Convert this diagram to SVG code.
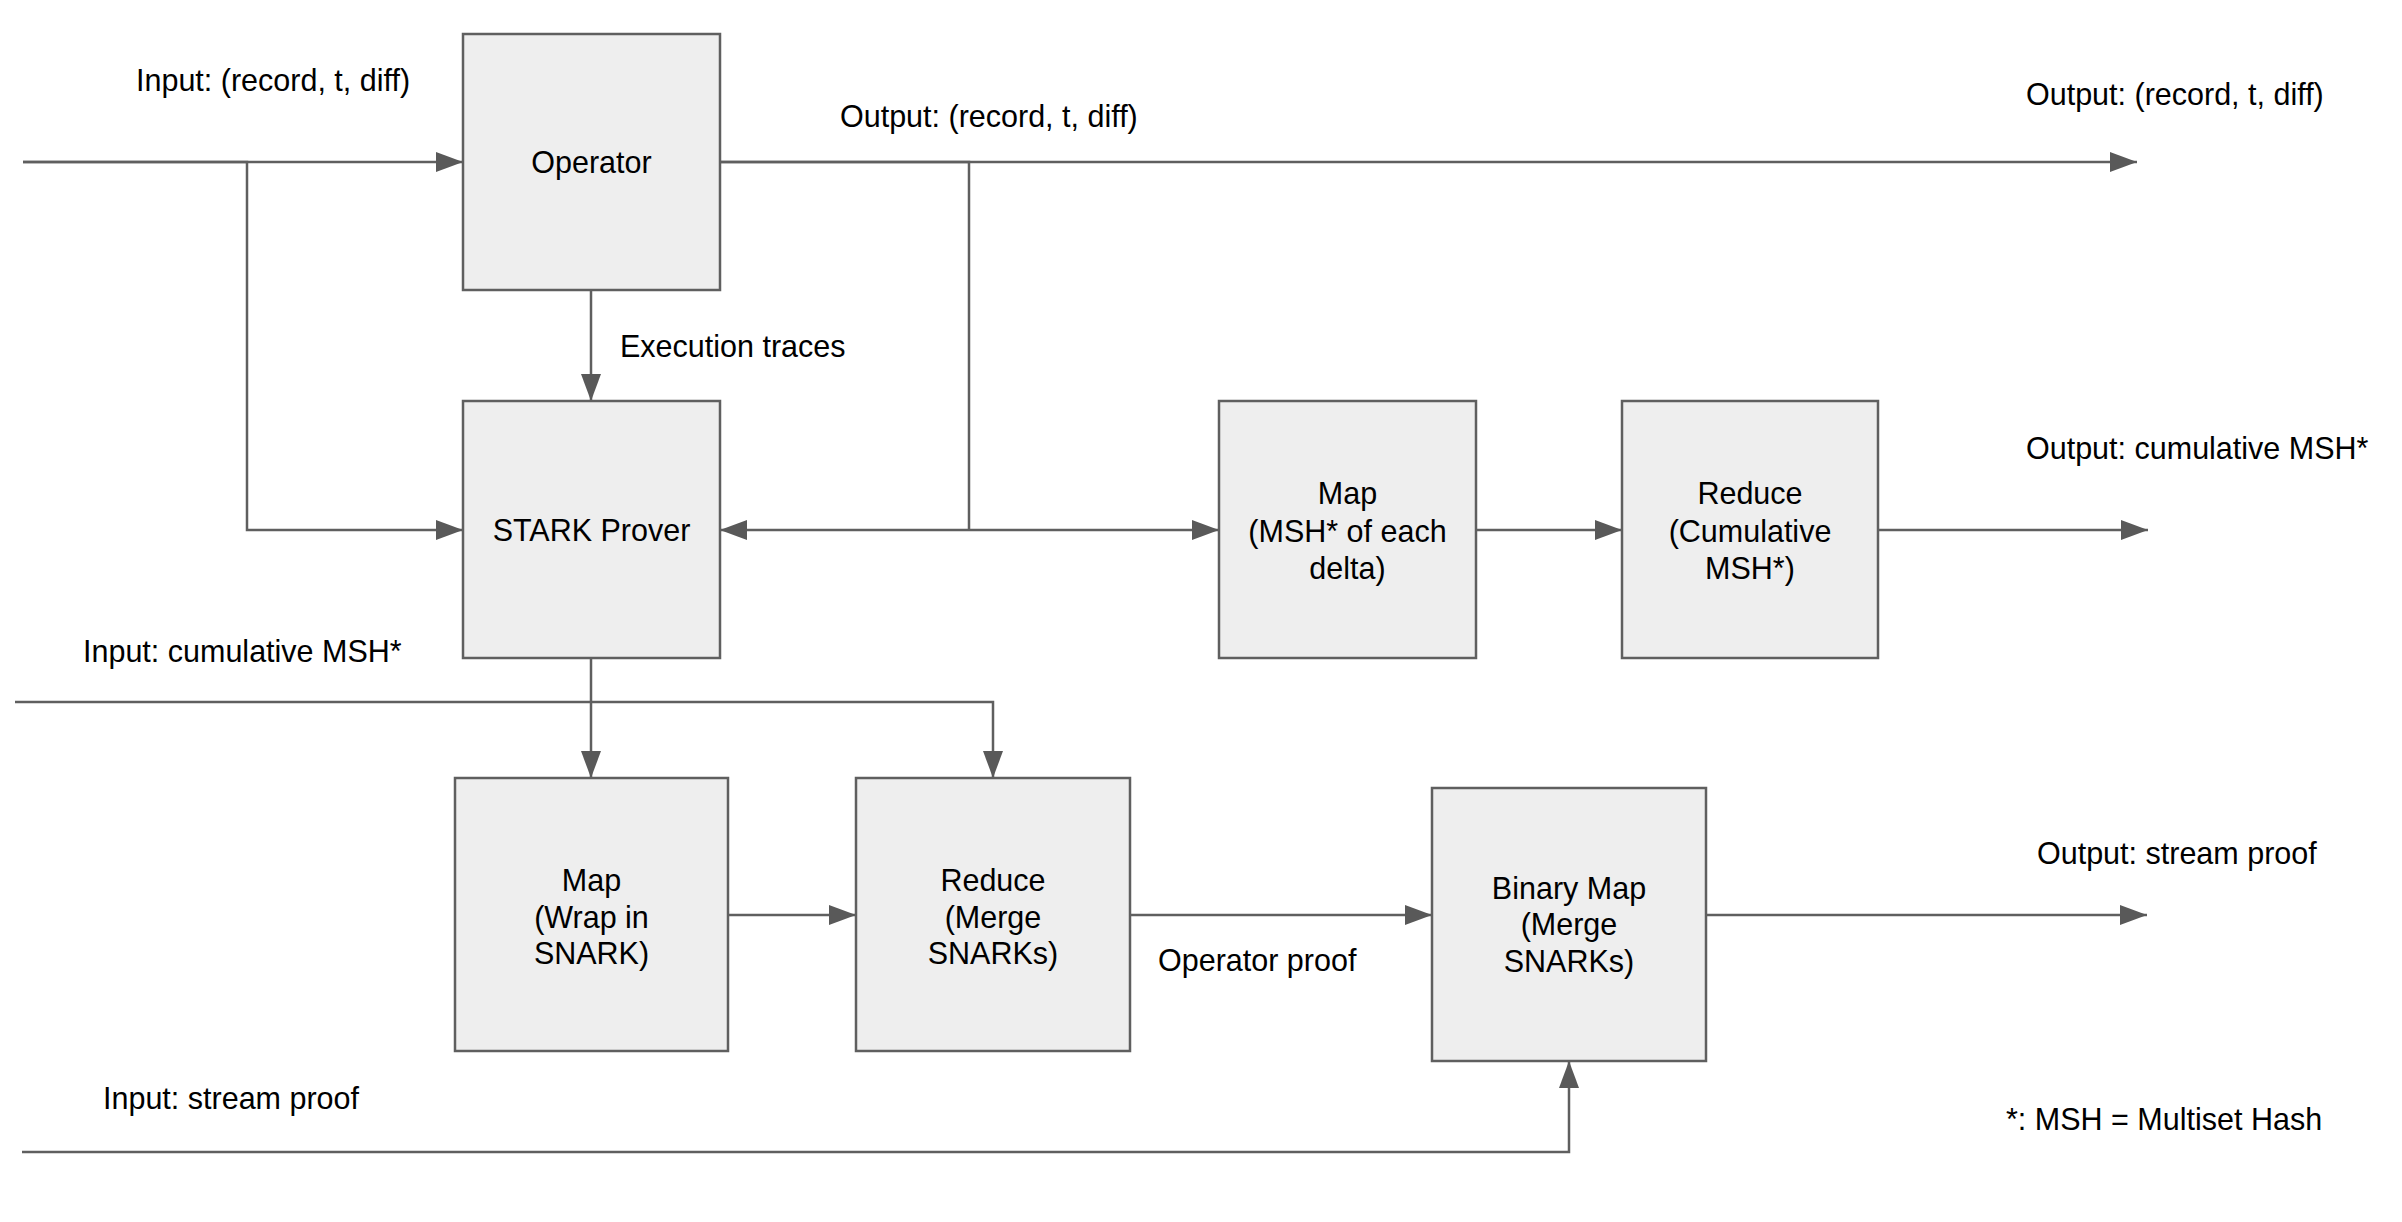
<svg xmlns="http://www.w3.org/2000/svg" width="2402" height="1222" viewBox="0 0 2402 1222">
<defs>
<marker id="ah" markerUnits="userSpaceOnUse" markerWidth="28" markerHeight="20" refX="27" refY="10" orient="auto">
<path d="M0,0 L27,10 L0,20 z" fill="#595959"/>
</marker>
<style>
.box{fill:#eeeeee;stroke:#5f5f5f;stroke-width:2.5}
.ln{fill:none;stroke:#5f5f5f;stroke-width:2.5}
.ar{fill:none;stroke:#5f5f5f;stroke-width:2.5;marker-end:url(#ah)}
text{font-family:"Liberation Sans",Arial,sans-serif;font-size:30.5px;fill:#000}
.c{text-anchor:middle}
</style>
</defs>
<rect width="2402" height="1222" fill="#ffffff"/>
<g id="connectors">
<path class="ar" d="M23,162 H463"/>
<path class="ar" d="M23,162 H247 V530 H463"/>
<path class="ar" d="M720,162 H2137"/>
<path class="ln" d="M720,162 H969 V530"/>
<path class="ar" d="M969,530 H720"/>
<path class="ar" d="M969,530 H1219"/>
<path class="ar" d="M591,290 V401"/>
<path class="ar" d="M1476,530 H1622"/>
<path class="ar" d="M1878,530 H2148"/>
<path class="ar" d="M591,658 V778"/>
<path class="ar" d="M15,702 H993 V778"/>
<path class="ar" d="M728,915 H856"/>
<path class="ar" d="M1130,915 H1432"/>
<path class="ar" d="M1706,915 H2147"/>
<path class="ar" d="M22,1152 H1569 V1061"/>
</g>
<g id="operator">
<rect class="box" x="463" y="34" width="257" height="256"/>
<text class="c" x="591.5" y="173">Operator</text>
</g>
<g id="stark-prover">
<rect class="box" x="463" y="401" width="257" height="257"/>
<text class="c" x="591.5" y="541">STARK Prover</text>
</g>
<g id="map-msh">
<rect class="box" x="1219" y="401" width="257" height="257"/>
<text class="c" x="1347.5" y="504">Map</text>
<text class="c" x="1347.5" y="542">(MSH* of each</text>
<text class="c" x="1347.5" y="579">delta)</text>
</g>
<g id="reduce-msh">
<rect class="box" x="1622" y="401" width="256" height="257"/>
<text class="c" x="1750" y="504">Reduce</text>
<text class="c" x="1750" y="542">(Cumulative</text>
<text class="c" x="1750" y="579">MSH*)</text>
</g>
<g id="map-snark">
<rect class="box" x="455" y="778" width="273" height="273"/>
<text class="c" x="591.5" y="891">Map</text>
<text class="c" x="591.5" y="928">(Wrap in</text>
<text class="c" x="591.5" y="964">SNARK)</text>
</g>
<g id="reduce-snark">
<rect class="box" x="856" y="778" width="274" height="273"/>
<text class="c" x="993" y="891">Reduce</text>
<text class="c" x="993" y="928">(Merge</text>
<text class="c" x="993" y="964">SNARKs)</text>
</g>
<g id="binary-map">
<rect class="box" x="1432" y="788" width="274" height="273"/>
<text class="c" x="1569" y="899">Binary Map</text>
<text class="c" x="1569" y="935">(Merge</text>
<text class="c" x="1569" y="972">SNARKs)</text>
</g>
<g id="labels">
<text x="136" y="91">Input: (record, t, diff)</text>
<text x="840" y="127">Output: (record, t, diff)</text>
<text x="2026" y="105">Output: (record, t, diff)</text>
<text x="620" y="357">Execution traces</text>
<text x="2026" y="459">Output: cumulative MSH*</text>
<text x="83" y="662">Input: cumulative MSH*</text>
<text x="2037" y="864">Output: stream proof</text>
<text x="1158" y="971">Operator proof</text>
<text x="103" y="1109">Input: stream proof</text>
<text x="2006" y="1130">*: MSH = Multiset Hash</text>
</g>
</svg>
